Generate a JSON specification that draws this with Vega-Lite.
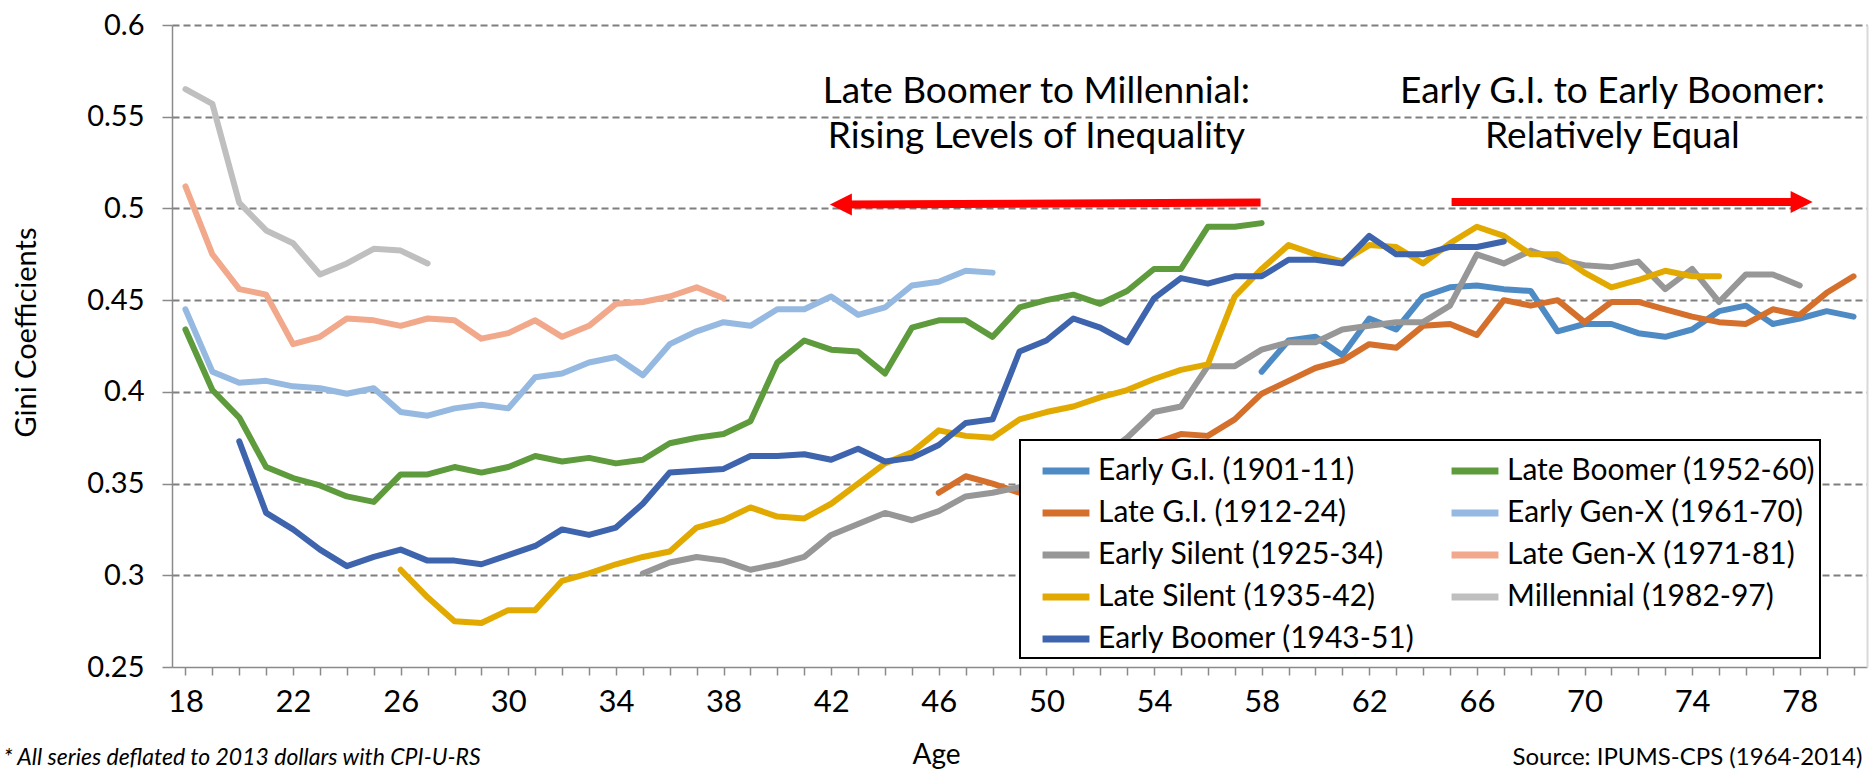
{
"$schema": "https://vega.github.io/schema/vega-lite/v6.json",
"width": 1695, "height": 642,
"autosize": {"type": "none"},
"padding": {"left": 172, "top": 25, "right": 8, "bottom": 103},
"background": "white",
"config": {"font": "Lato", "view": {"stroke": null},
  "legend": {"strokeWidth": 2},
  "axis": {"labelColor": "#000000", "titleColor": "#000000", "titleFontWeight": "normal", "domainColor": "#8a8a8a", "tickColor": "#8a8a8a", "domainWidth": 1.5, "tickWidth": 1.5}},
"datasets": {
"gini": [
{"s":"Early G.I. (1901-11)","age":58,"g":0.411},{"s":"Early G.I. (1901-11)","age":59,"g":0.428},{"s":"Early G.I. (1901-11)","age":60,"g":0.430},{"s":"Early G.I. (1901-11)","age":61,"g":0.420},{"s":"Early G.I. (1901-11)","age":62,"g":0.440},{"s":"Early G.I. (1901-11)","age":63,"g":0.434},{"s":"Early G.I. (1901-11)","age":64,"g":0.452},{"s":"Early G.I. (1901-11)","age":65,"g":0.457},{"s":"Early G.I. (1901-11)","age":66,"g":0.458},{"s":"Early G.I. (1901-11)","age":67,"g":0.456},{"s":"Early G.I. (1901-11)","age":68,"g":0.455},{"s":"Early G.I. (1901-11)","age":69,"g":0.433},{"s":"Early G.I. (1901-11)","age":70,"g":0.437},{"s":"Early G.I. (1901-11)","age":71,"g":0.437},{"s":"Early G.I. (1901-11)","age":72,"g":0.432},{"s":"Early G.I. (1901-11)","age":73,"g":0.430},{"s":"Early G.I. (1901-11)","age":74,"g":0.434},{"s":"Early G.I. (1901-11)","age":75,"g":0.444},{"s":"Early G.I. (1901-11)","age":76,"g":0.447},{"s":"Early G.I. (1901-11)","age":77,"g":0.437},{"s":"Early G.I. (1901-11)","age":78,"g":0.440},{"s":"Early G.I. (1901-11)","age":79,"g":0.444},{"s":"Early G.I. (1901-11)","age":80,"g":0.441},
{"s":"Late G.I. (1912-24)","age":46,"g":0.345},{"s":"Late G.I. (1912-24)","age":47,"g":0.354},{"s":"Late G.I. (1912-24)","age":48,"g":0.350},{"s":"Late G.I. (1912-24)","age":49,"g":0.345},{"s":"Late G.I. (1912-24)","age":50,"g":0.348},{"s":"Late G.I. (1912-24)","age":51,"g":0.353},{"s":"Late G.I. (1912-24)","age":52,"g":0.358},{"s":"Late G.I. (1912-24)","age":53,"g":0.366},{"s":"Late G.I. (1912-24)","age":54,"g":0.372},{"s":"Late G.I. (1912-24)","age":55,"g":0.377},{"s":"Late G.I. (1912-24)","age":56,"g":0.376},{"s":"Late G.I. (1912-24)","age":57,"g":0.385},{"s":"Late G.I. (1912-24)","age":58,"g":0.399},{"s":"Late G.I. (1912-24)","age":59,"g":0.406},{"s":"Late G.I. (1912-24)","age":60,"g":0.413},{"s":"Late G.I. (1912-24)","age":61,"g":0.417},{"s":"Late G.I. (1912-24)","age":62,"g":0.426},{"s":"Late G.I. (1912-24)","age":63,"g":0.424},{"s":"Late G.I. (1912-24)","age":64,"g":0.436},{"s":"Late G.I. (1912-24)","age":65,"g":0.437},{"s":"Late G.I. (1912-24)","age":66,"g":0.431},{"s":"Late G.I. (1912-24)","age":67,"g":0.450},{"s":"Late G.I. (1912-24)","age":68,"g":0.447},{"s":"Late G.I. (1912-24)","age":69,"g":0.450},{"s":"Late G.I. (1912-24)","age":70,"g":0.438},{"s":"Late G.I. (1912-24)","age":71,"g":0.449},{"s":"Late G.I. (1912-24)","age":72,"g":0.449},{"s":"Late G.I. (1912-24)","age":73,"g":0.445},{"s":"Late G.I. (1912-24)","age":74,"g":0.441},{"s":"Late G.I. (1912-24)","age":75,"g":0.438},{"s":"Late G.I. (1912-24)","age":76,"g":0.437},{"s":"Late G.I. (1912-24)","age":77,"g":0.445},{"s":"Late G.I. (1912-24)","age":78,"g":0.442},{"s":"Late G.I. (1912-24)","age":79,"g":0.454},{"s":"Late G.I. (1912-24)","age":80,"g":0.463},
{"s":"Early Silent (1925-34)","age":35,"g":0.301},{"s":"Early Silent (1925-34)","age":36,"g":0.307},{"s":"Early Silent (1925-34)","age":37,"g":0.310},{"s":"Early Silent (1925-34)","age":38,"g":0.308},{"s":"Early Silent (1925-34)","age":39,"g":0.303},{"s":"Early Silent (1925-34)","age":40,"g":0.306},{"s":"Early Silent (1925-34)","age":41,"g":0.310},{"s":"Early Silent (1925-34)","age":42,"g":0.322},{"s":"Early Silent (1925-34)","age":43,"g":0.328},{"s":"Early Silent (1925-34)","age":44,"g":0.334},{"s":"Early Silent (1925-34)","age":45,"g":0.330},{"s":"Early Silent (1925-34)","age":46,"g":0.335},{"s":"Early Silent (1925-34)","age":47,"g":0.343},{"s":"Early Silent (1925-34)","age":48,"g":0.345},{"s":"Early Silent (1925-34)","age":49,"g":0.348},{"s":"Early Silent (1925-34)","age":50,"g":0.350},{"s":"Early Silent (1925-34)","age":51,"g":0.356},{"s":"Early Silent (1925-34)","age":52,"g":0.364},{"s":"Early Silent (1925-34)","age":53,"g":0.375},{"s":"Early Silent (1925-34)","age":54,"g":0.389},{"s":"Early Silent (1925-34)","age":55,"g":0.392},{"s":"Early Silent (1925-34)","age":56,"g":0.414},{"s":"Early Silent (1925-34)","age":57,"g":0.414},{"s":"Early Silent (1925-34)","age":58,"g":0.423},{"s":"Early Silent (1925-34)","age":59,"g":0.427},{"s":"Early Silent (1925-34)","age":60,"g":0.427},{"s":"Early Silent (1925-34)","age":61,"g":0.434},{"s":"Early Silent (1925-34)","age":62,"g":0.436},{"s":"Early Silent (1925-34)","age":63,"g":0.438},{"s":"Early Silent (1925-34)","age":64,"g":0.438},{"s":"Early Silent (1925-34)","age":65,"g":0.447},{"s":"Early Silent (1925-34)","age":66,"g":0.475},{"s":"Early Silent (1925-34)","age":67,"g":0.470},{"s":"Early Silent (1925-34)","age":68,"g":0.477},{"s":"Early Silent (1925-34)","age":69,"g":0.472},{"s":"Early Silent (1925-34)","age":70,"g":0.469},{"s":"Early Silent (1925-34)","age":71,"g":0.468},{"s":"Early Silent (1925-34)","age":72,"g":0.471},{"s":"Early Silent (1925-34)","age":73,"g":0.456},{"s":"Early Silent (1925-34)","age":74,"g":0.467},{"s":"Early Silent (1925-34)","age":75,"g":0.449},{"s":"Early Silent (1925-34)","age":76,"g":0.464},{"s":"Early Silent (1925-34)","age":77,"g":0.464},{"s":"Early Silent (1925-34)","age":78,"g":0.458},
{"s":"Late Silent (1935-42)","age":26,"g":0.303},{"s":"Late Silent (1935-42)","age":27,"g":0.288},{"s":"Late Silent (1935-42)","age":28,"g":0.275},{"s":"Late Silent (1935-42)","age":29,"g":0.274},{"s":"Late Silent (1935-42)","age":30,"g":0.281},{"s":"Late Silent (1935-42)","age":31,"g":0.281},{"s":"Late Silent (1935-42)","age":32,"g":0.297},{"s":"Late Silent (1935-42)","age":33,"g":0.301},{"s":"Late Silent (1935-42)","age":34,"g":0.306},{"s":"Late Silent (1935-42)","age":35,"g":0.310},{"s":"Late Silent (1935-42)","age":36,"g":0.313},{"s":"Late Silent (1935-42)","age":37,"g":0.326},{"s":"Late Silent (1935-42)","age":38,"g":0.330},{"s":"Late Silent (1935-42)","age":39,"g":0.337},{"s":"Late Silent (1935-42)","age":40,"g":0.332},{"s":"Late Silent (1935-42)","age":41,"g":0.331},{"s":"Late Silent (1935-42)","age":42,"g":0.339},{"s":"Late Silent (1935-42)","age":43,"g":0.350},{"s":"Late Silent (1935-42)","age":44,"g":0.361},{"s":"Late Silent (1935-42)","age":45,"g":0.367},{"s":"Late Silent (1935-42)","age":46,"g":0.379},{"s":"Late Silent (1935-42)","age":47,"g":0.376},{"s":"Late Silent (1935-42)","age":48,"g":0.375},{"s":"Late Silent (1935-42)","age":49,"g":0.385},{"s":"Late Silent (1935-42)","age":50,"g":0.389},{"s":"Late Silent (1935-42)","age":51,"g":0.392},{"s":"Late Silent (1935-42)","age":52,"g":0.397},{"s":"Late Silent (1935-42)","age":53,"g":0.401},{"s":"Late Silent (1935-42)","age":54,"g":0.407},{"s":"Late Silent (1935-42)","age":55,"g":0.412},{"s":"Late Silent (1935-42)","age":56,"g":0.415},{"s":"Late Silent (1935-42)","age":57,"g":0.452},{"s":"Late Silent (1935-42)","age":58,"g":0.467},{"s":"Late Silent (1935-42)","age":59,"g":0.480},{"s":"Late Silent (1935-42)","age":60,"g":0.475},{"s":"Late Silent (1935-42)","age":61,"g":0.471},{"s":"Late Silent (1935-42)","age":62,"g":0.480},{"s":"Late Silent (1935-42)","age":63,"g":0.479},{"s":"Late Silent (1935-42)","age":64,"g":0.470},{"s":"Late Silent (1935-42)","age":65,"g":0.481},{"s":"Late Silent (1935-42)","age":66,"g":0.490},{"s":"Late Silent (1935-42)","age":67,"g":0.485},{"s":"Late Silent (1935-42)","age":68,"g":0.475},{"s":"Late Silent (1935-42)","age":69,"g":0.475},{"s":"Late Silent (1935-42)","age":70,"g":0.465},{"s":"Late Silent (1935-42)","age":71,"g":0.457},{"s":"Late Silent (1935-42)","age":72,"g":0.461},{"s":"Late Silent (1935-42)","age":73,"g":0.466},{"s":"Late Silent (1935-42)","age":74,"g":0.463},{"s":"Late Silent (1935-42)","age":75,"g":0.463},
{"s":"Early Boomer (1943-51)","age":20,"g":0.373},{"s":"Early Boomer (1943-51)","age":21,"g":0.334},{"s":"Early Boomer (1943-51)","age":22,"g":0.325},{"s":"Early Boomer (1943-51)","age":23,"g":0.314},{"s":"Early Boomer (1943-51)","age":24,"g":0.305},{"s":"Early Boomer (1943-51)","age":25,"g":0.310},{"s":"Early Boomer (1943-51)","age":26,"g":0.314},{"s":"Early Boomer (1943-51)","age":27,"g":0.308},{"s":"Early Boomer (1943-51)","age":28,"g":0.308},{"s":"Early Boomer (1943-51)","age":29,"g":0.306},{"s":"Early Boomer (1943-51)","age":30,"g":0.311},{"s":"Early Boomer (1943-51)","age":31,"g":0.316},{"s":"Early Boomer (1943-51)","age":32,"g":0.325},{"s":"Early Boomer (1943-51)","age":33,"g":0.322},{"s":"Early Boomer (1943-51)","age":34,"g":0.326},{"s":"Early Boomer (1943-51)","age":35,"g":0.339},{"s":"Early Boomer (1943-51)","age":36,"g":0.356},{"s":"Early Boomer (1943-51)","age":37,"g":0.357},{"s":"Early Boomer (1943-51)","age":38,"g":0.358},{"s":"Early Boomer (1943-51)","age":39,"g":0.365},{"s":"Early Boomer (1943-51)","age":40,"g":0.365},{"s":"Early Boomer (1943-51)","age":41,"g":0.366},{"s":"Early Boomer (1943-51)","age":42,"g":0.363},{"s":"Early Boomer (1943-51)","age":43,"g":0.369},{"s":"Early Boomer (1943-51)","age":44,"g":0.362},{"s":"Early Boomer (1943-51)","age":45,"g":0.364},{"s":"Early Boomer (1943-51)","age":46,"g":0.371},{"s":"Early Boomer (1943-51)","age":47,"g":0.383},{"s":"Early Boomer (1943-51)","age":48,"g":0.385},{"s":"Early Boomer (1943-51)","age":49,"g":0.422},{"s":"Early Boomer (1943-51)","age":50,"g":0.428},{"s":"Early Boomer (1943-51)","age":51,"g":0.440},{"s":"Early Boomer (1943-51)","age":52,"g":0.435},{"s":"Early Boomer (1943-51)","age":53,"g":0.427},{"s":"Early Boomer (1943-51)","age":54,"g":0.451},{"s":"Early Boomer (1943-51)","age":55,"g":0.462},{"s":"Early Boomer (1943-51)","age":56,"g":0.459},{"s":"Early Boomer (1943-51)","age":57,"g":0.463},{"s":"Early Boomer (1943-51)","age":58,"g":0.463},{"s":"Early Boomer (1943-51)","age":59,"g":0.472},{"s":"Early Boomer (1943-51)","age":60,"g":0.472},{"s":"Early Boomer (1943-51)","age":61,"g":0.470},{"s":"Early Boomer (1943-51)","age":62,"g":0.485},{"s":"Early Boomer (1943-51)","age":63,"g":0.475},{"s":"Early Boomer (1943-51)","age":64,"g":0.475},{"s":"Early Boomer (1943-51)","age":65,"g":0.479},{"s":"Early Boomer (1943-51)","age":66,"g":0.479},{"s":"Early Boomer (1943-51)","age":67,"g":0.482},
{"s":"Late Boomer (1952-60)","age":18,"g":0.434},{"s":"Late Boomer (1952-60)","age":19,"g":0.401},{"s":"Late Boomer (1952-60)","age":20,"g":0.386},{"s":"Late Boomer (1952-60)","age":21,"g":0.359},{"s":"Late Boomer (1952-60)","age":22,"g":0.353},{"s":"Late Boomer (1952-60)","age":23,"g":0.349},{"s":"Late Boomer (1952-60)","age":24,"g":0.343},{"s":"Late Boomer (1952-60)","age":25,"g":0.340},{"s":"Late Boomer (1952-60)","age":26,"g":0.355},{"s":"Late Boomer (1952-60)","age":27,"g":0.355},{"s":"Late Boomer (1952-60)","age":28,"g":0.359},{"s":"Late Boomer (1952-60)","age":29,"g":0.356},{"s":"Late Boomer (1952-60)","age":30,"g":0.359},{"s":"Late Boomer (1952-60)","age":31,"g":0.365},{"s":"Late Boomer (1952-60)","age":32,"g":0.362},{"s":"Late Boomer (1952-60)","age":33,"g":0.364},{"s":"Late Boomer (1952-60)","age":34,"g":0.361},{"s":"Late Boomer (1952-60)","age":35,"g":0.363},{"s":"Late Boomer (1952-60)","age":36,"g":0.372},{"s":"Late Boomer (1952-60)","age":37,"g":0.375},{"s":"Late Boomer (1952-60)","age":38,"g":0.377},{"s":"Late Boomer (1952-60)","age":39,"g":0.384},{"s":"Late Boomer (1952-60)","age":40,"g":0.416},{"s":"Late Boomer (1952-60)","age":41,"g":0.428},{"s":"Late Boomer (1952-60)","age":42,"g":0.423},{"s":"Late Boomer (1952-60)","age":43,"g":0.422},{"s":"Late Boomer (1952-60)","age":44,"g":0.410},{"s":"Late Boomer (1952-60)","age":45,"g":0.435},{"s":"Late Boomer (1952-60)","age":46,"g":0.439},{"s":"Late Boomer (1952-60)","age":47,"g":0.439},{"s":"Late Boomer (1952-60)","age":48,"g":0.430},{"s":"Late Boomer (1952-60)","age":49,"g":0.446},{"s":"Late Boomer (1952-60)","age":50,"g":0.450},{"s":"Late Boomer (1952-60)","age":51,"g":0.453},{"s":"Late Boomer (1952-60)","age":52,"g":0.448},{"s":"Late Boomer (1952-60)","age":53,"g":0.455},{"s":"Late Boomer (1952-60)","age":54,"g":0.467},{"s":"Late Boomer (1952-60)","age":55,"g":0.467},{"s":"Late Boomer (1952-60)","age":56,"g":0.490},{"s":"Late Boomer (1952-60)","age":57,"g":0.490},{"s":"Late Boomer (1952-60)","age":58,"g":0.492},
{"s":"Early Gen-X (1961-70)","age":18,"g":0.445},{"s":"Early Gen-X (1961-70)","age":19,"g":0.411},{"s":"Early Gen-X (1961-70)","age":20,"g":0.405},{"s":"Early Gen-X (1961-70)","age":21,"g":0.406},{"s":"Early Gen-X (1961-70)","age":22,"g":0.403},{"s":"Early Gen-X (1961-70)","age":23,"g":0.402},{"s":"Early Gen-X (1961-70)","age":24,"g":0.399},{"s":"Early Gen-X (1961-70)","age":25,"g":0.402},{"s":"Early Gen-X (1961-70)","age":26,"g":0.389},{"s":"Early Gen-X (1961-70)","age":27,"g":0.387},{"s":"Early Gen-X (1961-70)","age":28,"g":0.391},{"s":"Early Gen-X (1961-70)","age":29,"g":0.393},{"s":"Early Gen-X (1961-70)","age":30,"g":0.391},{"s":"Early Gen-X (1961-70)","age":31,"g":0.408},{"s":"Early Gen-X (1961-70)","age":32,"g":0.410},{"s":"Early Gen-X (1961-70)","age":33,"g":0.416},{"s":"Early Gen-X (1961-70)","age":34,"g":0.419},{"s":"Early Gen-X (1961-70)","age":35,"g":0.409},{"s":"Early Gen-X (1961-70)","age":36,"g":0.426},{"s":"Early Gen-X (1961-70)","age":37,"g":0.433},{"s":"Early Gen-X (1961-70)","age":38,"g":0.438},{"s":"Early Gen-X (1961-70)","age":39,"g":0.436},{"s":"Early Gen-X (1961-70)","age":40,"g":0.445},{"s":"Early Gen-X (1961-70)","age":41,"g":0.445},{"s":"Early Gen-X (1961-70)","age":42,"g":0.452},{"s":"Early Gen-X (1961-70)","age":43,"g":0.442},{"s":"Early Gen-X (1961-70)","age":44,"g":0.446},{"s":"Early Gen-X (1961-70)","age":45,"g":0.458},{"s":"Early Gen-X (1961-70)","age":46,"g":0.460},{"s":"Early Gen-X (1961-70)","age":47,"g":0.466},{"s":"Early Gen-X (1961-70)","age":48,"g":0.465},
{"s":"Late Gen-X (1971-81)","age":18,"g":0.512},{"s":"Late Gen-X (1971-81)","age":19,"g":0.475},{"s":"Late Gen-X (1971-81)","age":20,"g":0.456},{"s":"Late Gen-X (1971-81)","age":21,"g":0.453},{"s":"Late Gen-X (1971-81)","age":22,"g":0.426},{"s":"Late Gen-X (1971-81)","age":23,"g":0.430},{"s":"Late Gen-X (1971-81)","age":24,"g":0.440},{"s":"Late Gen-X (1971-81)","age":25,"g":0.439},{"s":"Late Gen-X (1971-81)","age":26,"g":0.436},{"s":"Late Gen-X (1971-81)","age":27,"g":0.440},{"s":"Late Gen-X (1971-81)","age":28,"g":0.439},{"s":"Late Gen-X (1971-81)","age":29,"g":0.429},{"s":"Late Gen-X (1971-81)","age":30,"g":0.432},{"s":"Late Gen-X (1971-81)","age":31,"g":0.439},{"s":"Late Gen-X (1971-81)","age":32,"g":0.430},{"s":"Late Gen-X (1971-81)","age":33,"g":0.436},{"s":"Late Gen-X (1971-81)","age":34,"g":0.448},{"s":"Late Gen-X (1971-81)","age":35,"g":0.449},{"s":"Late Gen-X (1971-81)","age":36,"g":0.452},{"s":"Late Gen-X (1971-81)","age":37,"g":0.457},{"s":"Late Gen-X (1971-81)","age":38,"g":0.451},
{"s":"Millennial (1982-97)","age":18,"g":0.565},{"s":"Millennial (1982-97)","age":19,"g":0.557},{"s":"Millennial (1982-97)","age":20,"g":0.503},{"s":"Millennial (1982-97)","age":21,"g":0.488},{"s":"Millennial (1982-97)","age":22,"g":0.481},{"s":"Millennial (1982-97)","age":23,"g":0.464},{"s":"Millennial (1982-97)","age":24,"g":0.470},{"s":"Millennial (1982-97)","age":25,"g":0.478},{"s":"Millennial (1982-97)","age":26,"g":0.477},{"s":"Millennial (1982-97)","age":27,"g":0.470}
],
"arrows": [
{"dir":"left","x1":42.5,"x2":57.96,"y1":0.5021,"y2":0.5033},
{"dir":"right","x1":65.06,"x2":77.7,"y1":0.5035,"y2":0.5035}
],
"heads": [
{"dir":"left","hx":42.36,"hy":0.5021},
{"dir":"right","hx":78.07,"hy":0.5035}
],
"notes": [
{"tx":49.63,"ty":0.5576,"label":"Late Boomer to Millennial:"},
{"tx":49.63,"ty":0.5328,"label":"Rising Levels of Inequality"},
{"tx":71.04,"ty":0.5576,"label":"Early G.I. to Early Boomer:"},
{"tx":71.04,"ty":0.5328,"label":"Relatively Equal"}
]
},
"layer": [
{
"data": {"name": "gini"},
"mark": {"type": "line", "strokeWidth": 6, "strokeCap": "round", "strokeJoin": "round"},
"encoding": {
"x": {"field": "age", "type": "quantitative", "scale": {"domain": [17.5, 80.5], "nice": false, "zero": false},
  "axis": {"title": "Age", "values": [18,19,20,21,22,23,24,25,26,27,28,29,30,31,32,33,34,35,36,37,38,39,40,41,42,43,44,45,46,47,48,49,50,51,52,53,54,55,56,57,58,59,60,61,62,63,64,65,66,67,68,69,70,71,72,73,74,75,76,77,78,79,80],
   "labelExpr": "(datum.value - 18) % 4 == 0 ? datum.value : ''", "grid": false, "tickSize": 8, "labelFontSize": 31, "labelPadding": 12, "labelOverlap": false, "labelFlush": false,
   "titleFontSize": 28, "titleX": 764, "titleY": 96, "titleBaseline": "alphabetic", "titleAlign": "center"}},
"y": {"field": "g", "type": "quantitative", "scale": {"domain": [0.25, 0.6], "nice": false, "zero": false},
  "axis": {"title": "Gini Coefficients", "values": [0.25,0.3,0.35,0.4,0.45,0.5,0.55,0.6], "format": ".2~f", "grid": true, "gridDash": [7,4], "gridColor": "#7f7f7f", "gridWidth": 2,
   "gridOpacity": {"condition": {"test": "datum.value == 0.25", "value": 0}, "value": 1},
   "tickSize": 10, "labelFontSize": 29, "labelPadding": 18, "titleFontSize": 29, "titleX": -137, "titleY": 307, "titleBaseline": "alphabetic", "titleAlign": "center"}},
"color": {"field": "s", "type": "nominal",
  "scale": {"domain": ["Early G.I. (1901-11)", "Late G.I. (1912-24)", "Early Silent (1925-34)", "Late Silent (1935-42)", "Early Boomer (1943-51)", "Late Boomer (1952-60)", "Early Gen-X (1961-70)", "Late Gen-X (1971-81)", "Millennial (1982-97)"],
   "range": ["#4e8bc5", "#d5702c", "#979797", "#e2aa00", "#3e64ae", "#5e9b3c", "#95b9e0", "#f1a88b", "#bfbfbf"]},
  "legend": {"title": null, "orient": "none", "legendX": 848, "legendY": 415, "columns": 2, "symbolType": "stroke", "symbolStrokeWidth": 7, "symbolSize": 2200, "symbolOffset": 15,
   "labelFontSize": 30, "labelFont": "Lato", "labelColor": "#000000", "labelLimit": 500, "labelOffset": 5, "strokeColor": "#000000", "fillColor": "#ffffff",
   "padding": 4, "rowPadding": -8, "columnPadding": 17}}
}
},
{
"data": {"name": "arrows"},
"mark": {"type": "rule", "color": "#ff0000", "strokeWidth": 8},
"encoding": {
"x": {"field": "x1", "type": "quantitative", "scale": {"domain": [17.5, 80.5], "nice": false, "zero": false},
  "axis": {"orient": "bottom", "title": "* All series deflated to 2013 dollars with CPI-U-RS", "labels": false, "ticks": false, "domain": false, "grid": false,
   "titleFontSize": 23, "titleFontStyle": "italic", "titleX": -169, "titleY": 97, "titleAlign": "left", "titleBaseline": "alphabetic"}},
"x2": {"field": "x2"},
"y": {"field": "y1", "type": "quantitative", "scale": {"domain": [0.25, 0.6], "nice": false, "zero": false},
  "axis": {"orient": "right", "title": null, "labels": false, "ticks": false, "grid": false, "domainColor": "#d9d9d9", "domainWidth": 2}},
"y2": {"field": "y2"}
}
},
{
"data": {"name": "heads"},
"mark": {"type": "point", "filled": true, "opacity": 1, "size": 484, "color": "#ff0000", "strokeWidth": 0},
"encoding": {
"x": {"field": "hx", "type": "quantitative", "scale": {"domain": [17.5, 80.5], "nice": false, "zero": false}, "axis": null},
"y": {"field": "hy", "type": "quantitative", "scale": {"domain": [0.25, 0.6], "nice": false, "zero": false}, "axis": null},
"shape": {"field": "dir", "type": "nominal", "scale": {"domain": ["left", "right"], "range": ["M-1,0L1,-1L1,1Z", "M1,0L-1,-1L-1,1Z"]}, "legend": null}
}
},
{
"data": {"name": "notes"},
"mark": {"type": "text", "fontSize": 37, "align": "center", "baseline": "alphabetic", "font": "Lato", "color": "#000000"},
"encoding": {
"x": {"field": "tx", "type": "quantitative", "scale": {"domain": [17.5, 80.5], "nice": false, "zero": false},
  "axis": {"orient": "bottom", "title": "Source: IPUMS-CPS (1964-2014)", "labels": false, "ticks": false, "domain": false, "grid": false,
   "titleFontSize": 24, "titleX": 1340, "titleY": 97, "titleAlign": "left", "titleBaseline": "alphabetic"}},
"y": {"field": "ty", "type": "quantitative", "scale": {"domain": [0.25, 0.6], "nice": false, "zero": false}, "axis": null},
"text": {"field": "label"}
}
}
],
"resolve": {"axis": {"x": "independent", "y": "independent"}}
}
